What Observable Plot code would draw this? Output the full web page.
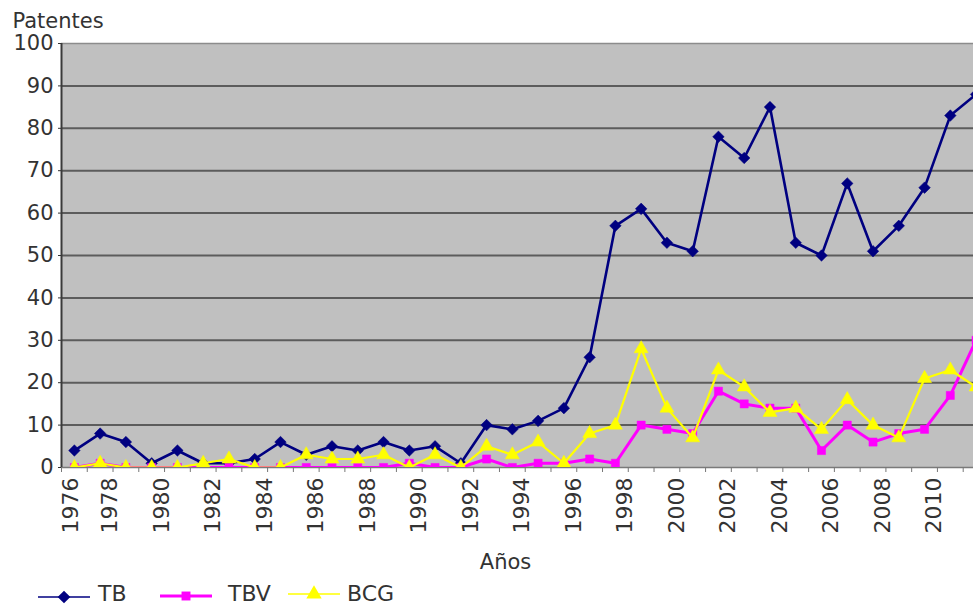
<!DOCTYPE html>
<html><head><meta charset="utf-8">
<script src="https://cdn.jsdelivr.net/npm/d3@7"></script>
<script src="https://cdn.jsdelivr.net/npm/@observablehq/plot@0.6"></script>
<style>
body{margin:0;background:#fff;font-family:"DejaVu Sans",sans-serif;}
#wrap{width:973px;height:607px;overflow:hidden;}
#wrap svg{display:block;}
</style></head><body><div id="wrap"></div><script>
const years = d3.range(1976, 2012);
const tb  = [4,8,6,1,4,1,1,2,6,3,5,4,6,4,5,1,10,9,11,14,26,57,61,53,51,78,73,85,53,50,67,51,57,66,83,88];
const tbv = [0,1,0,0,0,0,0,0,0,0,0,0,0,1,0,0,2,0,1,1,2,1,10,9,8,18,15,14,14,4,10,6,8,9,17,30];
const bcg = [0,1,0,0,0,1,2,0,0,3,2,2,3,0,3,0,5,3,6,1,8,10,28,14,7,23,19,13,14,9,16,10,7,21,23,19];
const seriesNames = ["TB", "TBV", "BCG"];
const yTicks = d3.range(0, 101, 10);
const xTickLabels = d3.range(1976, 2011, 2);
const yTitle = "Patentes";
const xTitle = "Años";

const styles = {
  TB:  {values: tb,  color: "#000080", symbol: "diamond2", r: 5.2, sw: 2.6},
  TBV: {values: tbv, color: "#ff00ff", symbol: "square",  r: 4.6, sw: 3},
  BCG: {values: bcg, color: "#ffff00", symbol: "triangle", r: 5.2, sw: 2.2}
};
const rows = seriesNames.flatMap(name => years.map((year, i) => ({name, year, value: styles[name].values[i]})));

const W = 973, H = 575, bottom = 467;
const xDomain = [1975.5, 2010.9];
const labelPos = y => Math.max(y - 0.5, 1976);
const labelMap = new Map(xTickLabels.map(y => [labelPos(y), String(y)]));

const seriesMarks = seriesNames.flatMap(name => {
  const s = styles[name];
  const data = rows.filter(d => d.name === name);
  return [
    Plot.line(data, {x: "year", y: "value", stroke: s.color, strokeWidth: s.sw, clip: true}),
    Plot.dot(data, {x: "year", y: "value", symbol: s.symbol, r: s.r, fill: s.color, stroke: s.color, strokeWidth: 0.5, clip: true})
  ];
});

const chart = Plot.plot({
  width: W, height: H,
  marginLeft: 61, marginRight: 0, marginTop: 43, marginBottom: H - bottom,
  x: {domain: xDomain},
  y: {domain: [0, 100]},
  style: {fontFamily: "DejaVu Sans", background: "#fff", color: "#333"},
  marks: [
    Plot.frame({fill: "#c0c0c0", stroke: null}),
    Plot.ruleY(yTicks.filter(v => v > 0 && v < 100), {stroke: "#5c5c5c", strokeWidth: 2}),
    Plot.ruleY([100], {stroke: "#8c8c8c", strokeWidth: 1.5}),
    Plot.ruleY([0], {stroke: "#7a7a7a", strokeWidth: 1.5}),
    Plot.ruleX([xDomain[0]], {stroke: "#3a3a3a", strokeWidth: 2}),
    Plot.axisY({ticks: yTicks, tickSize: 3, tickPadding: 5, fontSize: 21, label: null, stroke: "#333"}),
    Plot.axisX({ticks: years.map(y => y - 0.5), tickSize: 5, tickFormat: () => "", label: null, stroke: "#777"}),
    Plot.axisX({ticks: xTickLabels.map(labelPos), tickSize: 0, tickPadding: 10, tickRotate: -90, dx: -3,
      tickFormat: d => labelMap.get(d), fontSize: 22, label: null}),
    ...seriesMarks,
    Plot.text([yTitle], {frameAnchor: "top-left", dx: -49, dy: -16, textAnchor: "start", lineAnchor: "bottom", fontSize: 21, fill: "#333"}),
    Plot.text([xTitle], {frameAnchor: "bottom", dx: -12, dy: 101, textAnchor: "middle", lineAnchor: "bottom", fontSize: 21, fill: "#333"})
  ]
});
document.getElementById("wrap").appendChild(chart);

// legend
const leg = d3.create("svg").attr("width", W).attr("height", 32)
  .style("font-family", "DejaVu Sans").style("font-size", "22px");
const legendPos = {TB: [38, 98], TBV: [160, 228], BCG: [288, 347]};
seriesNames.forEach(name => {
  const s = styles[name];
  const [x0, tx] = legendPos[name];
  const ly = name === "BCG" ? 19 : name === "TBV" ? 21 : 22;
  leg.append("line").attr("x1", x0).attr("x2", x0 + 52).attr("y1", ly).attr("y2", ly)
    .attr("stroke", s.color).attr("stroke-width", name === "TBV" ? 3 : 1.5);
  const sym = {diamond2: d3.symbolDiamond2, square: d3.symbolSquare, triangle: d3.symbolTriangle}[s.symbol];
  leg.append("path").attr("d", d3.symbol(sym, Math.PI * s.r * s.r * 1.2)())
    .attr("transform", `translate(${x0 + 26},${ly})`).attr("fill", s.color);
  leg.append("text").attr("x", tx).attr("y", 26).attr("fill", "#333").text(name);
});
document.getElementById("wrap").appendChild(leg.node());
</script></body></html>
